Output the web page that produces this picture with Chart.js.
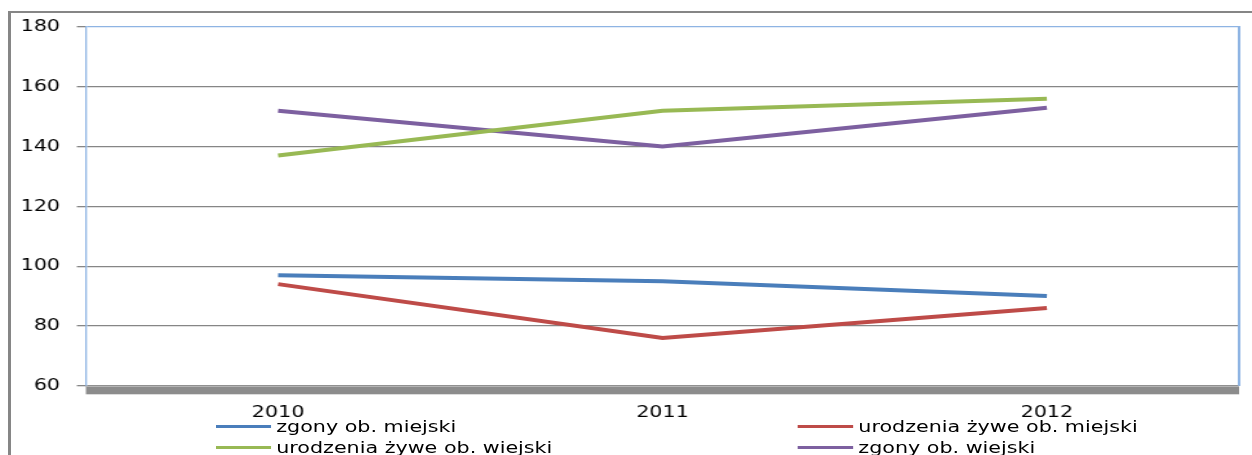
<!DOCTYPE html>
<html>
<head>
<meta charset="utf-8">
<script src="https://cdn.jsdelivr.net/npm/chart.js@4"></script>
<style>
  html, body { margin: 0; padding: 0; width: 1252px; height: 455px; overflow: hidden; background: #fff; }
  #frame { position: absolute; left: 8px; top: 11px; width: 1400px; height: 600px; border-left: 3px solid #868686; border-top: 2px solid #868686; }
  #wrap { position: absolute; left: 0; top: 0; width: 970px; height: 455px; transform: scaleX(1.2907); transform-origin: 0 0; }
  #wrap canvas { position: absolute; left: 0; top: 0; }
  .leg { position: absolute; font-family: "DejaVu Sans", sans-serif; font-size: 16px; line-height: 21px; color: #000; white-space: nowrap; }
  .leg i { display: inline-block; width: 43px; height: 3px; vertical-align: middle; margin-right: 4px; position: relative; top: -1px; }
</style>
</head>
<body>
<div id="frame"></div>
<div id="wrap">
  <canvas id="c"></canvas>
  <div id="legend"></div>
</div>
<script>
const categories = ["2010", "2011", "2012"];
const zgonyMiejski = [97, 95, 90];
const urodzeniaMiejski = [94, 76, 86];
const urodzeniaWiejski = [137, 152, 156];
const zgonyWiejski = [152, 140, 153];
const seriesNames = ["zgony ob. miejski", "urodzenia żywe ob. miejski", "urodzenia żywe ob. wiejski", "zgony ob. wiejski"];
const seriesColors = ["#4A7EBB", "#BE4B48", "#98B954", "#7D60A0"];
const yMin = 60, yMax = 180, yStep = 20;

const font = { family: "DejaVu Sans", size: 16 };

const floorPlugin = {
  id: 'floor',
  beforeDatasetsDraw(chart) {
    const { ctx, chartArea } = chart;
    ctx.save();
    ctx.fillStyle = '#8c8c8c';
    ctx.fillRect(chartArea.left, chartArea.bottom, chartArea.right - chartArea.left, 8.5);
    ctx.fillStyle = '#b4b4b4';
    ctx.fillRect(chartArea.left, chartArea.bottom, chartArea.right - chartArea.left, 1.2);
    ctx.restore();
  }
};

const datasets = [zgonyMiejski, urodzeniaMiejski, urodzeniaWiejski, zgonyWiejski].map((d, i) => ({
  label: seriesNames[i],
  data: d,
  borderColor: seriesColors[i],
  backgroundColor: seriesColors[i],
  borderWidth: 4,
  pointRadius: 0,
  tension: 0,
  fill: false
}));

new Chart(document.getElementById('c'), {
  type: 'line',
  data: { labels: categories, datasets },
  options: {
    responsive: true,
    maintainAspectRatio: false,
    animation: false,
    layout: { padding: { left: 3, top: 27, right: 10, bottom: 16 } },
    plugins: { legend: { display: false }, tooltip: { enabled: false } },
    scales: {
      x: {
        offset: true,
        grid: { display: false, drawTicks: false },
        border: { display: false },
        ticks: { font, color: '#000', padding: 17 }
      },
      y: {
        min: yMin, max: yMax,
        ticks: { stepSize: yStep, font, color: '#000', padding: 13 },
        grid: {
          tickLength: 7,
          tickColor: '#868686',
          lineWidth: 1.3,
          color: (c) => (c.tick && c.tick.value === yMax) ? '#8EB4E3' : '#868686'
        },
        border: { color: '#8EB4E3', width: 1.3 }
      },
      y2: {
        position: 'right',
        min: yMin, max: yMax,
        ticks: { display: false },
        grid: { drawOnChartArea: false, drawTicks: false },
        border: { color: '#8EB4E3', width: 2 }
      }
    }
  },
  plugins: [floorPlugin]
});

// legend (two aligned columns)
const legendPos = [
  { i: 0, x: 167, y: 416 },
  { i: 1, x: 618, y: 416 },
  { i: 2, x: 167, y: 437 },
  { i: 3, x: 618, y: 437 }
];
const legendEl = document.getElementById('legend');
legendPos.forEach(p => {
  const d = document.createElement('div');
  d.className = 'leg';
  d.style.left = p.x + 'px';
  d.style.top = p.y + 'px';
  const sw = document.createElement('i');
  sw.style.background = seriesColors[p.i];
  d.appendChild(sw);
  d.appendChild(document.createTextNode(seriesNames[p.i]));
  legendEl.appendChild(d);
});
</script>
</body>
</html>
